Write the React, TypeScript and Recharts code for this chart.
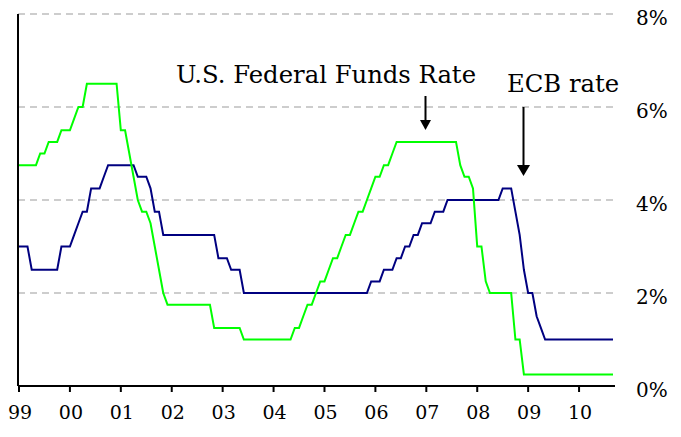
import React from "react";
import { LineChart, Line, XAxis, YAxis, CartesianGrid } from "recharts";

const YEAR_LABELS = ["99", "00", "01", "02", "03", "04", "05", "06", "07", "08", "09", "10"];
const PCT_TICKS = [0, 2, 4, 6, 8];

// monthly values, Jan 1999 .. Sep 2010 (one row per year)
const FED_FUNDS = [
  4.75, 4.75, 4.75, 4.75, 4.75, 5.0, 5.0, 5.25, 5.25, 5.25, 5.5, 5.5,
  5.5, 5.75, 6.0, 6.0, 6.5, 6.5, 6.5, 6.5, 6.5, 6.5, 6.5, 6.5,
  5.5, 5.5, 5.0, 4.5, 4.0, 3.75, 3.75, 3.5, 3.0, 2.5, 2.0, 1.75,
  1.75, 1.75, 1.75, 1.75, 1.75, 1.75, 1.75, 1.75, 1.75, 1.75, 1.25, 1.25,
  1.25, 1.25, 1.25, 1.25, 1.25, 1.0, 1.0, 1.0, 1.0, 1.0, 1.0, 1.0,
  1.0, 1.0, 1.0, 1.0, 1.0, 1.25, 1.25, 1.5, 1.75, 1.75, 2.0, 2.25,
  2.25, 2.5, 2.75, 2.75, 3.0, 3.25, 3.25, 3.5, 3.75, 3.75, 4.0, 4.25,
  4.5, 4.5, 4.75, 4.75, 5.0, 5.25, 5.25, 5.25, 5.25, 5.25, 5.25, 5.25,
  5.25, 5.25, 5.25, 5.25, 5.25, 5.25, 5.25, 5.25, 4.75, 4.5, 4.5, 4.25,
  3.0, 3.0, 2.25, 2.0, 2.0, 2.0, 2.0, 2.0, 2.0, 1.0, 1.0, 0.25,
  0.25, 0.25, 0.25, 0.25, 0.25, 0.25, 0.25, 0.25, 0.25, 0.25, 0.25, 0.25,
  0.25, 0.25, 0.25, 0.25, 0.25, 0.25, 0.25, 0.25, 0.25,
];

const ECB_RATE = [
  3.0, 3.0, 3.0, 2.5, 2.5, 2.5, 2.5, 2.5, 2.5, 2.5, 3.0, 3.0,
  3.0, 3.25, 3.5, 3.75, 3.75, 4.25, 4.25, 4.25, 4.5, 4.75, 4.75, 4.75,
  4.75, 4.75, 4.75, 4.75, 4.5, 4.5, 4.5, 4.25, 3.75, 3.75, 3.25, 3.25,
  3.25, 3.25, 3.25, 3.25, 3.25, 3.25, 3.25, 3.25, 3.25, 3.25, 3.25, 2.75,
  2.75, 2.75, 2.5, 2.5, 2.5, 2.0, 2.0, 2.0, 2.0, 2.0, 2.0, 2.0,
  2.0, 2.0, 2.0, 2.0, 2.0, 2.0, 2.0, 2.0, 2.0, 2.0, 2.0, 2.0,
  2.0, 2.0, 2.0, 2.0, 2.0, 2.0, 2.0, 2.0, 2.0, 2.0, 2.0, 2.25,
  2.25, 2.25, 2.5, 2.5, 2.5, 2.75, 2.75, 3.0, 3.0, 3.25, 3.25, 3.5,
  3.5, 3.5, 3.75, 3.75, 3.75, 4.0, 4.0, 4.0, 4.0, 4.0, 4.0, 4.0,
  4.0, 4.0, 4.0, 4.0, 4.0, 4.0, 4.25, 4.25, 4.25, 3.75, 3.25, 2.5,
  2.0, 2.0, 1.5, 1.25, 1.0, 1.0, 1.0, 1.0, 1.0, 1.0, 1.0, 1.0,
  1.0, 1.0, 1.0, 1.0, 1.0, 1.0, 1.0, 1.0, 1.0,
];

const data = FED_FUNDS.map((fed, i) => ({ m: i, fed, ecb: ECB_RATE[i] }));

const FONT = "'DejaVu Serif', serif";

function YearTick({ x, y, payload }: any) {
  return (
    <text x={x + 1} y={y + 25} textAnchor="middle" fontFamily={FONT} fontSize={19} fill="#000">
      {YEAR_LABELS[Math.round(payload.value / 12)]}
    </text>
  );
}

function PctTick({ x, y, payload }: any) {
  return (
    <text x={x} y={y + 11} textAnchor="start" fontFamily={FONT} fontSize={20} fill="#000">
      {payload.value}%
    </text>
  );
}

function Annotations() {
  return (
    <svg
      width={681}
      height={437}
      style={{ position: "absolute", left: 0, top: 0, pointerEvents: "none" }}
    >
      <text x={176} y={83} fontFamily={FONT} fontSize={24.3} fill="#000">
        U.S. Federal Funds Rate
      </text>
      <line x1={425.5} y1={96} x2={425.5} y2={121} stroke="#000" strokeWidth={2} />
      <polygon points="420,120 431,120 425.5,130" fill="#000" />
      <text x={507} y={92} fontFamily={FONT} fontSize={24.3} fill="#000">
        ECB rate
      </text>
      <line x1={523.5} y1={107} x2={523.5} y2={166} stroke="#000" strokeWidth={2} />
      <polygon points="517,165 530,165 523.5,176" fill="#000" />
    </svg>
  );
}

export default function App() {
  return (
    <div style={{ position: "absolute", left: 0, top: 0, width: 681, height: 437, background: "#fff" }}>
      <LineChart width={681} height={437} data={data} margin={{ top: 14, right: 0, left: 0, bottom: 0 }}>
        <CartesianGrid
          yAxisId="right"
          vertical={false}
          stroke="#bdbdbd"
          strokeWidth={1.5}
          strokeDasharray="7 5"
        />
        <XAxis
          dataKey="m"
          type="category"
          interval={11}
          height={51}
          padding={{ left: 1, right: 2 }}
          axisLine={{ stroke: "#000", strokeWidth: 2 }}
          tickLine={{ stroke: "#000", strokeWidth: 2 }}
          tickSize={6}
          tick={<YearTick />}
        />
        <YAxis
          yAxisId="left"
          orientation="left"
          width={18}
          domain={[0, 8]}
          ticks={PCT_TICKS}
          axisLine={{ stroke: "#000", strokeWidth: 2 }}
          tickLine={{ stroke: "#000", strokeWidth: 2 }}
          tickSize={6}
          tickFormatter={() => ""}
        />
        <YAxis
          yAxisId="right"
          orientation="right"
          width={66}
          domain={[0, 8]}
          ticks={PCT_TICKS}
          axisLine={false}
          tickLine={false}
          tickSize={0}
          tickMargin={21}
          tick={<PctTick />}
        />
        <Line
          yAxisId="right"
          type="linear"
          dataKey="ecb"
          stroke="#000080"
          strokeWidth={2}
          dot={false}
          isAnimationActive={false}
        />
        <Line
          yAxisId="right"
          type="linear"
          dataKey="fed"
          stroke="#00ff00"
          strokeWidth={2}
          dot={false}
          isAnimationActive={false}
        />
      </LineChart>
      <Annotations />
    </div>
  );
}
